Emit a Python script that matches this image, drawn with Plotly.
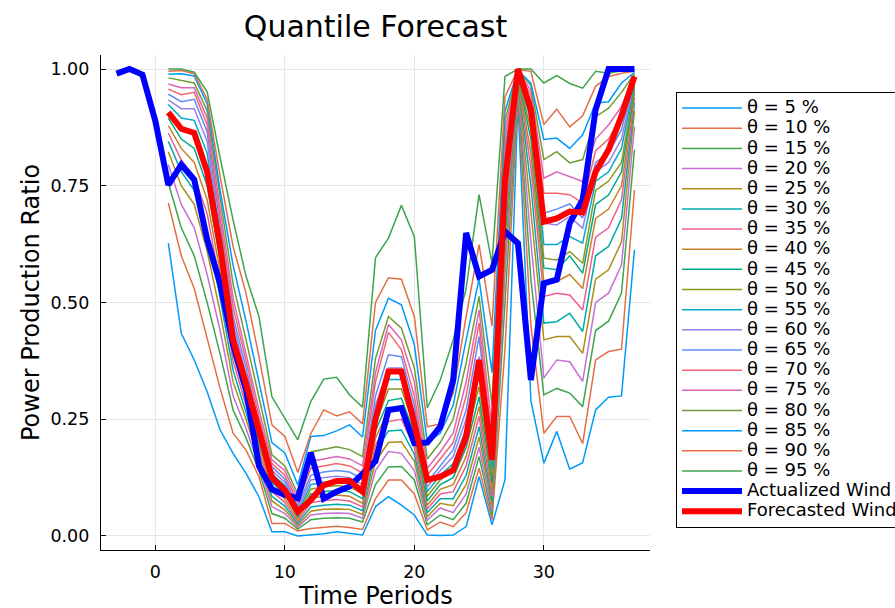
import plotly.graph_objects as go

# ---------------- data ----------------
periods_actual = list(range(-3, 38))
periods_fc = list(range(1, 38))

actual_wind = [0.99, 1.0, 0.988, 0.888, 0.752, 0.795, 0.763, 0.635, 0.54, 0.41,
               0.313, 0.15, 0.1, 0.088, 0.081, 0.178, 0.08, 0.095, 0.106, 0.135,
               0.16, 0.27, 0.274, 0.199, 0.2, 0.234, 0.334, 0.649, 0.556, 0.57,
               0.652, 0.627, 0.334, 0.541, 0.549, 0.67, 0.72, 0.913, 1.0, 1.0, 1.0]

forecast_wind = [0.907, 0.872, 0.863, 0.78, 0.62, 0.42, 0.327, 0.23, 0.125, 0.098,
                 0.052, 0.077, 0.109, 0.118, 0.118, 0.095, 0.25, 0.352, 0.352, 0.241,
                 0.12, 0.127, 0.141, 0.213, 0.377, 0.163, 0.76, 1.0, 0.913, 0.673,
                 0.68, 0.695, 0.693, 0.78, 0.827, 0.9, 0.984]

q05 = [0.627, 0.434, 0.377, 0.309, 0.227, 0.177, 0.134, 0.084, 0.009, 0.009, 0.0, 0.002, 0.005,
       0.009, 0.005, 0.002, 0.063, 0.084, 0.066, 0.045, 0.002, 0.001, 0.002, 0.02, 0.127, 0.024,
       0.12, 0.93, 0.29, 0.156, 0.224, 0.143, 0.157, 0.27, 0.297, 0.30, 0.613]
q10 = [0.713, 0.60, 0.53, 0.42, 0.316, 0.22, 0.184, 0.127, 0.027, 0.027, 0.011, 0.016, 0.018,
       0.021, 0.018, 0.014, 0.08, 0.12, 0.12, 0.09, 0.013, 0.03, 0.02, 0.05, 0.145, 0.035,
       0.40, 0.95, 0.45, 0.22, 0.256, 0.256, 0.198, 0.377, 0.395, 0.40, 0.741]
q15 = [0.756, 0.66, 0.60, 0.50, 0.39, 0.27, 0.21, 0.14, 0.048, 0.038, 0.015, 0.035, 0.038,
       0.039, 0.038, 0.03, 0.11, 0.148, 0.149, 0.12, 0.024, 0.045, 0.035, 0.07, 0.17, 0.045,
       0.50, 0.96, 0.55, 0.302, 0.316, 0.306, 0.277, 0.44, 0.46, 0.52, 0.827]
q20 = [0.795, 0.71, 0.66, 0.56, 0.44, 0.30, 0.23, 0.15, 0.063, 0.048, 0.019, 0.045, 0.048,
       0.049, 0.048, 0.038, 0.14, 0.181, 0.177, 0.14, 0.034, 0.06, 0.05, 0.09, 0.19, 0.055,
       0.56, 0.965, 0.63, 0.338, 0.377, 0.373, 0.331, 0.50, 0.52, 0.58, 0.877]
q25 = [0.823, 0.75, 0.71, 0.61, 0.48, 0.33, 0.25, 0.16, 0.075, 0.056, 0.023, 0.053, 0.057,
       0.058, 0.057, 0.046, 0.16, 0.20, 0.202, 0.16, 0.041, 0.07, 0.065, 0.11, 0.212, 0.065,
       0.60, 0.97, 0.70, 0.42, 0.427, 0.427, 0.391, 0.55, 0.57, 0.63, 0.91]
q30 = [0.845, 0.78, 0.74, 0.65, 0.51, 0.355, 0.265, 0.17, 0.085, 0.064, 0.027, 0.062, 0.066,
       0.068, 0.066, 0.054, 0.18, 0.225, 0.227, 0.175, 0.05, 0.08, 0.08, 0.13, 0.234, 0.075,
       0.64, 0.975, 0.75, 0.456, 0.459, 0.477, 0.438, 0.60, 0.62, 0.68, 0.928]
q35 = [0.863, 0.805, 0.77, 0.69, 0.54, 0.375, 0.28, 0.18, 0.095, 0.072, 0.031, 0.071, 0.076,
       0.078, 0.075, 0.062, 0.195, 0.245, 0.25, 0.19, 0.058, 0.09, 0.095, 0.15, 0.256, 0.085,
       0.67, 0.978, 0.79, 0.513, 0.52, 0.516, 0.484, 0.64, 0.66, 0.72, 0.94]
q40 = [0.879, 0.83, 0.80, 0.72, 0.565, 0.39, 0.295, 0.19, 0.105, 0.08, 0.036, 0.08, 0.085,
       0.088, 0.085, 0.07, 0.21, 0.27, 0.275, 0.205, 0.066, 0.10, 0.11, 0.17, 0.277, 0.10,
       0.70, 0.98, 0.82, 0.545, 0.545, 0.56, 0.53, 0.68, 0.70, 0.75, 0.95]
q45 = [0.895, 0.85, 0.83, 0.75, 0.59, 0.405, 0.305, 0.20, 0.115, 0.09, 0.041, 0.09, 0.095,
       0.098, 0.095, 0.08, 0.225, 0.29, 0.295, 0.22, 0.075, 0.11, 0.125, 0.19, 0.298, 0.115,
       0.73, 0.983, 0.85, 0.574, 0.57, 0.60, 0.563, 0.71, 0.73, 0.78, 0.958]
q50 = [0.907, 0.872, 0.86, 0.78, 0.61, 0.42, 0.32, 0.21, 0.125, 0.10, 0.046, 0.10, 0.105,
       0.108, 0.105, 0.09, 0.24, 0.315, 0.315, 0.235, 0.085, 0.12, 0.14, 0.21, 0.32, 0.13,
       0.76, 0.985, 0.87, 0.595, 0.591, 0.609, 0.584, 0.74, 0.76, 0.80, 0.965]
q55 = [0.924, 0.895, 0.89, 0.82, 0.625, 0.44, 0.335, 0.22, 0.133, 0.108, 0.051, 0.11, 0.115,
       0.118, 0.115, 0.10, 0.26, 0.335, 0.335, 0.25, 0.095, 0.13, 0.155, 0.23, 0.356, 0.145,
       0.79, 0.988, 0.89, 0.624, 0.624, 0.641, 0.627, 0.76, 0.78, 0.83, 0.97]
q60 = [0.934, 0.915, 0.915, 0.845, 0.645, 0.455, 0.345, 0.23, 0.14, 0.115, 0.057, 0.12, 0.125,
       0.128, 0.125, 0.11, 0.28, 0.36, 0.36, 0.265, 0.105, 0.14, 0.17, 0.25, 0.384, 0.16,
       0.81, 0.99, 0.91, 0.67, 0.666, 0.684, 0.659, 0.78, 0.80, 0.85, 0.975]
q65 = [0.946, 0.93, 0.935, 0.865, 0.665, 0.47, 0.36, 0.24, 0.148, 0.122, 0.064, 0.13, 0.137,
       0.14, 0.137, 0.122, 0.30, 0.388, 0.384, 0.28, 0.115, 0.15, 0.185, 0.27, 0.427, 0.18,
       0.83, 0.992, 0.93, 0.691, 0.70, 0.711, 0.681, 0.80, 0.82, 0.87, 0.98]
q70 = [0.957, 0.945, 0.95, 0.88, 0.68, 0.49, 0.375, 0.255, 0.155, 0.13, 0.071, 0.145, 0.15,
       0.155, 0.15, 0.135, 0.33, 0.436, 0.399, 0.30, 0.13, 0.165, 0.20, 0.30, 0.456, 0.20,
       0.85, 0.994, 0.945, 0.734, 0.734, 0.731, 0.713, 0.825, 0.85, 0.90, 0.984]
q75 = [0.968, 0.96, 0.96, 0.895, 0.70, 0.51, 0.39, 0.27, 0.163, 0.14, 0.08, 0.16, 0.165,
       0.17, 0.165, 0.15, 0.35, 0.453, 0.42, 0.33, 0.145, 0.18, 0.22, 0.33, 0.484, 0.23,
       0.87, 0.995, 0.955, 0.766, 0.78, 0.77, 0.759, 0.85, 0.88, 0.92, 0.988]
q80 = [0.981, 0.975, 0.97, 0.91, 0.72, 0.54, 0.42, 0.295, 0.174, 0.15, 0.09, 0.18, 0.185,
       0.191, 0.185, 0.17, 0.38, 0.47, 0.445, 0.36, 0.165, 0.20, 0.25, 0.37, 0.513, 0.28,
       0.89, 0.996, 0.965, 0.806, 0.823, 0.799, 0.806, 0.898, 0.916, 0.95, 0.99]
q85 = [0.989, 0.99, 0.985, 0.925, 0.74, 0.58, 0.46, 0.33, 0.20, 0.178, 0.109, 0.213, 0.215,
       0.225, 0.238, 0.212, 0.44, 0.509, 0.495, 0.41, 0.20, 0.22, 0.28, 0.42, 0.55, 0.35,
       0.91, 0.997, 0.97, 0.849, 0.852, 0.83, 0.859, 0.927, 0.93, 0.97, 0.993]
q90 = [0.995, 0.997, 0.99, 0.935, 0.77, 0.62, 0.52, 0.384, 0.238, 0.213, 0.136, 0.219, 0.27,
       0.257, 0.266, 0.24, 0.50, 0.553, 0.55, 0.47, 0.234, 0.24, 0.306, 0.47, 0.624, 0.45,
       0.94, 0.999, 0.995, 0.881, 0.914, 0.876, 0.90, 0.963, 0.984, 0.991, 0.995]
q95 = [1.0, 1.0, 0.993, 0.951, 0.81, 0.677, 0.556, 0.47, 0.298, 0.252, 0.206, 0.288, 0.336,
       0.34, 0.302, 0.276, 0.596, 0.638, 0.708, 0.641, 0.274, 0.334, 0.42, 0.53, 0.731, 0.584,
       0.984, 1.0, 1.0, 0.97, 0.986, 0.969, 0.959, 0.995, 0.991, 0.996, 0.998]

quantile_levels = [5, 10, 15, 20, 25, 30, 35, 40, 45, 50, 55, 60, 65, 70, 75, 80, 85, 90, 95]
quantile_series = [q05, q10, q15, q20, q25, q30, q35, q40, q45, q50,
                   q55, q60, q65, q70, q75, q80, q85, q90, q95]

y_tick_vals = [0.0, 0.25, 0.5, 0.75, 1.0]
y_tick_text = ["0.00", "0.25", "0.50", "0.75", "1.00"]
x_tick_vals = [0, 10, 20, 30]

palette = ["#009AFA", "#E36F47", "#3EA44E", "#C371D2", "#AC8E18", "#00AAAE",
           "#ED5E93", "#C68225", "#00A98D", "#8E971D", "#00A9CB", "#9B7FE9",
           "#618DF7", "#F0656F", "#DD65B6", "#6C9D33"]

LEG_FS = 18


def leg(name):
    return '<span style="font-size:%gpx">%s</span>' % (LEG_FS, name)


fig = go.Figure()
for i, (lvl, vals) in enumerate(zip(quantile_levels, quantile_series)):
    fig.add_trace(go.Scatter(
        x=periods_fc, y=vals, mode="lines",
        line=dict(color=palette[i % len(palette)], width=1.5),
        name=leg("θ = %d %%" % lvl)))

fig.add_trace(go.Scatter(x=periods_actual, y=actual_wind, mode="lines",
                         line=dict(color="#0000FF", width=6),
                         name=leg("Actualized Wind")))
fig.add_trace(go.Scatter(x=periods_fc, y=forecast_wind, mode="lines",
                         line=dict(color="#FF0000", width=6),
                         name=leg("Forecasted Wind")))

axis_common = dict(
    showline=True, linecolor="black", linewidth=1.2, mirror=False,
    ticks="inside", ticklen=5, tickcolor="black", tickwidth=1,
    showgrid=True, gridcolor="#e6e6e6", gridwidth=1, zeroline=False,
    tickfont=dict(size=17.5, color="black"),
)

fig.update_layout(
    width=895, height=608,
    margin=dict(l=101, r=245, t=55, b=58, autoexpand=False),
    paper_bgcolor="white", plot_bgcolor="white",
    font=dict(family="DejaVu Sans", color="black"),
    title=dict(text="Quantile Forecast", font=dict(size=30),
               xref="paper", x=0.5, xanchor="center",
               yref="container", y=1 - 26 / 608, yanchor="middle"),
    xaxis=dict(range=[-4.2, 38.2], tickvals=x_tick_vals,
               ticklabelstandoff=6, **axis_common),
    yaxis=dict(range=[-0.03, 1.03], tickvals=y_tick_vals, ticktext=y_tick_text,
               title=dict(text="Power Production Ratio", font=dict(size=24), standoff=4),
               ticklabelstandoff=7, **axis_common),
    legend=dict(x=(676 - 101) / 549, y=(550 - 92) / 495, xanchor="left", yanchor="top",
                bgcolor="white", bordercolor="black", borderwidth=1,
                font=dict(size=13.2, color="black"), itemwidth=60,
                tracegroupgap=0),
    showlegend=True,
    annotations=[dict(text="Time Periods", xref="paper", yref="paper",
                      x=0.5, y=-(596 - 550) / 495, xanchor="center", yanchor="middle",
                      showarrow=False, font=dict(size=24, color="black"))],
)

fig.write_html("out.html",
               config={"displayModeBar": False},
               post_script="document.body.style.margin='0px';document.body.style.padding='0px';")
